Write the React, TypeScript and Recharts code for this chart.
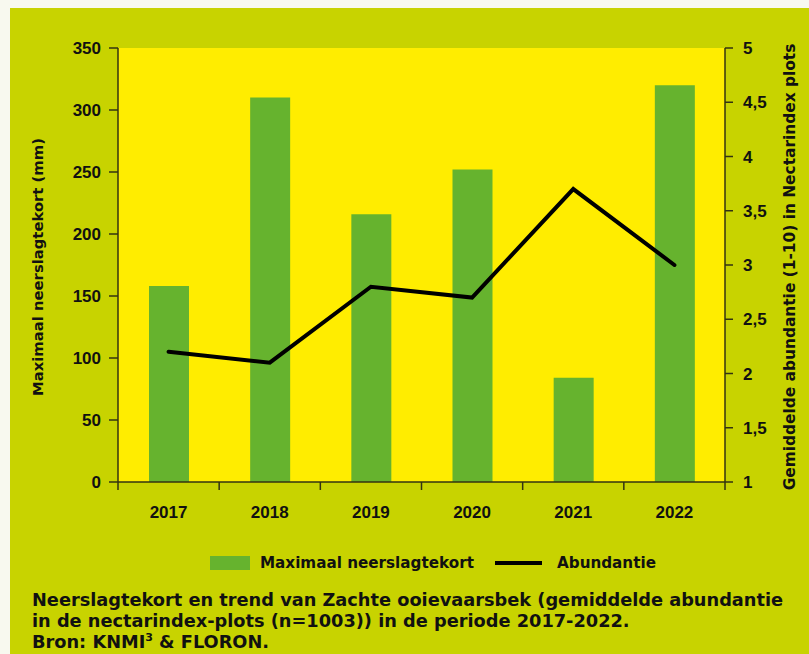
import React from "react";
import { ComposedChart, Bar, Line, XAxis, YAxis, CartesianGrid } from "recharts";

const years = ["2017", "2018", "2019", "2020", "2021", "2022"];
const neerslagtekort = [158, 310, 216, 252, 84, 320];
const abundantie = [2.2, 2.1, 2.8, 2.7, 3.7, 3.0];
const leftTicks = [0, 50, 100, 150, 200, 250, 300, 350];
const rightTicks = [1, 1.5, 2, 2.5, 3, 3.5, 4, 4.5, 5];

const OLIVE = "#c8d300";
const YELLOW = "#ffed00";
const GREEN = "#66b32e";
const AXIS = "#333310";
const FONT = '"Liberation Sans", Arial, Helvetica, sans-serif';
const HEAVY = '"DejaVu Sans", "Liberation Sans", Arial, sans-serif';

const CHART_W = 799;
const LEFT_W = 108;
const RIGHT_W = 84;
const BAND = (CHART_W - LEFT_W - RIGHT_W) / years.length;

const data = years.map((year, i) => ({
  year,
  tekort: neerslagtekort[i],
  abundantie: abundantie[i],
}));

function XTick(props: any) {
  const { x, y, payload, index } = props;
  const left = x - BAND / 2;
  return (
    <g>
      <line x1={left} x2={left} y1={y} y2={y + 8} stroke={AXIS} strokeWidth={1.5} />
      {index === years.length - 1 && (
        <line x1={x + BAND / 2} x2={x + BAND / 2} y1={y} y2={y + 8} stroke={AXIS} strokeWidth={1.5} />
      )}
      <text x={x} y={y + 36} textAnchor='middle' fontSize={17} fontWeight='bold' fill='#111' fontFamily={FONT}>
        {payload.value}
      </text>
    </g>
  );
}

function sideLabel(text: string, dx: number, size: number) {
  return (props: any) => {
    const vb = props.viewBox;
    const cx = vb.x + dx;
    const cy = vb.y + vb.height / 2 + 2;
    return (
      <text
        x={cx}
        y={cy}
        transform={`rotate(-90, ${cx}, ${cy})`}
        textAnchor='middle'
        dominantBaseline='central'
        fontSize={size}
        fontWeight='bold'
        fill='#111'
        fontFamily={HEAVY}
      >
        {text}
      </text>
    );
  };
}

const tickStyle = { fontSize: 17, fontWeight: "bold", fill: "#111", fontFamily: FONT };

export default function App() {
  return (
    <div style={{ position: "fixed", inset: 0, background: "#f8f9ef" }}>
      <div
        style={{
          position: "absolute",
          left: 10,
          top: 8,
          width: CHART_W,
          height: 646,
          background: OLIVE,
          fontFamily: HEAVY,
        }}
      >
        <ComposedChart width={CHART_W} height={530} data={data} margin={{ top: 40, right: 0, left: 0, bottom: 0 }}>
          <CartesianGrid horizontal={false} vertical={false} fill={YELLOW} stroke='none' />
          <XAxis
            dataKey='year'
            height={56}
            axisLine={{ stroke: AXIS, strokeWidth: 1.5 }}
            tickLine={false}
            tickSize={0}
            tickMargin={0}
            tick={<XTick />}
            interval={0}
          />
          <YAxis
            yAxisId='left'
            width={LEFT_W}
            domain={[0, 350]}
            ticks={leftTicks}
            interval={0}
            tickSize={9}
            tickMargin={8}
            axisLine={{ stroke: AXIS, strokeWidth: 1.5 }}
            tickLine={{ stroke: AXIS, strokeWidth: 1.5 }}
            tick={tickStyle}
            label={{ content: sideLabel("Maximaal neerslagtekort (mm)", 27, 14.8) }}
          />
          <YAxis
            yAxisId='right'
            orientation='right'
            width={RIGHT_W}
            domain={[1, 5]}
            ticks={rightTicks}
            interval={0}
            tickSize={8}
            tickMargin={10}
            axisLine={{ stroke: AXIS, strokeWidth: 1.5 }}
            tickLine={{ stroke: AXIS, strokeWidth: 1.5 }}
            tick={tickStyle}
            tickFormatter={(v: number) => String(v).replace(".", ",")}
            label={{ content: sideLabel("Gemiddelde abundantie (1-10) in Nectarindex plots", 65, 15.4) }}
          />
          <Bar yAxisId='left' dataKey='tekort' fill={GREEN} barSize={40} isAnimationActive={false} />
          <Line
            yAxisId='right'
            dataKey='abundantie'
            stroke='#000'
            strokeWidth={4}
            strokeLinecap='round'
            dot={false}
            activeDot={false}
            isAnimationActive={false}
          />
        </ComposedChart>

        <div style={{ position: "absolute", left: 200, top: 548, width: 40, height: 14, background: GREEN }} />
        <div style={{ position: "absolute", left: 250, top: 545, fontSize: 15.2, fontWeight: "bold", lineHeight: "20px", color: "#111" }}>
          Maximaal neerslagtekort
        </div>
        <div style={{ position: "absolute", left: 485, top: 553, width: 47, height: 4, background: "#000" }} />
        <div style={{ position: "absolute", left: 547, top: 545, fontSize: 15.2, fontWeight: "bold", lineHeight: "20px", color: "#111" }}>
          Abundantie
        </div>

        <div
          style={{
            position: "absolute",
            left: 22,
            top: 582,
            width: 775,
            fontSize: 17.75,
            fontWeight: "bold",
            lineHeight: "21px",
            color: "#111",
            whiteSpace: "nowrap",
          }}
        >
          Neerslagtekort en trend van Zachte ooievaarsbek (gemiddelde abundantie
          <br />
          in de nectarindex-plots (n=1003)) in de periode 2017-2022.
          <br />
          Bron: KNMI<sup style={{ fontSize: 11, lineHeight: 0 }}>3</sup> &amp; FLORON.
        </div>
      </div>
    </div>
  );
}
